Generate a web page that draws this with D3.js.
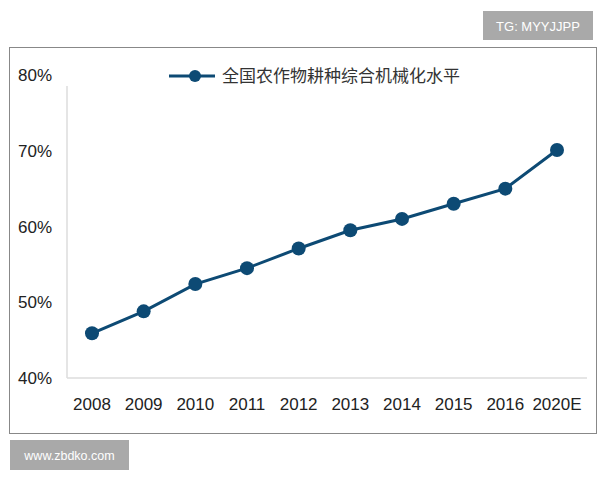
<!DOCTYPE html><html><head><meta charset="utf-8"><script src="https://cdn.jsdelivr.net/npm/d3@7"></script>
<style>body{margin:0;background:#fff}</style></head><body><svg id="c" width="600" height="480"></svg>
<script>
const categories=["2008","2009","2010","2011","2012","2013","2014","2015","2016","2020E"];
const values=[45.9,48.8,52.4,54.5,57.1,59.5,61.0,63.0,65.0,70.1];
const yTicks=[40,50,60,70,80];
const seriesName="全国农作物耕种综合机械化水平";
const svg=d3.select("#c");
const font="'Liberation Sans', Arial, 'Noto Sans CJK SC', sans-serif";
const color="#0d4a74";
svg.append("rect").attr("x",9.5).attr("y",47.5).attr("width",587).attr("height",386).attr("fill","#fff").attr("stroke","#888").attr("stroke-width",1);
svg.append("rect").attr("x",483).attr("y",11).attr("width",110).attr("height",29).attr("fill","#a9a9a9");
svg.append("text").attr("x",538).attr("y",31).attr("text-anchor","middle").attr("fill","#fff").attr("font-family",font).attr("font-size",13).text("TG: MYYJJPP");
svg.append("rect").attr("x",10).attr("y",440).attr("width",119).attr("height",30).attr("fill","#a9a9a9");
svg.append("text").attr("x",69.5).attr("y",460).attr("text-anchor","middle").attr("fill","#fff").attr("font-family",font).attr("font-size",12.5).text("www.zbdko.com");
const x=d3.scalePoint().domain(categories).range([92,557]);
const y=d3.scaleLinear().domain([40,80]).range([378,75]);
svg.append("line").attr("x1",67).attr("x2",67).attr("y1",86).attr("y2",378).attr("stroke","#ddd").attr("stroke-width",1.5);
svg.append("line").attr("x1",67).attr("x2",587).attr("y1",378).attr("y2",378).attr("stroke","#ddd").attr("stroke-width",1.5);
svg.selectAll(".yl").data(yTicks).enter().append("text").attr("x",52).attr("y",d=>y(d)+6).attr("text-anchor","end").attr("font-family",font).attr("font-size",17).attr("fill","#222").text(d=>d+"%");
svg.selectAll(".xl").data(categories).enter().append("text").attr("x",d=>x(d)).attr("y",410).attr("text-anchor","middle").attr("font-family",font).attr("font-size",17).attr("fill","#222").text(d=>d);
const data=categories.map((c,i)=>({c,v:values[i]}));
svg.append("path").datum(data).attr("d",d3.line().x(d=>x(d.c)).y(d=>y(d.v))).attr("fill","none").attr("stroke",color).attr("stroke-width",3);
svg.selectAll(".pt").data(data).enter().append("circle").attr("cx",d=>x(d.c)).attr("cy",d=>y(d.v)).attr("r",7).attr("fill",color);
svg.append("line").attr("x1",169).attr("x2",215).attr("y1",76).attr("y2",76).attr("stroke",color).attr("stroke-width",3);
svg.append("circle").attr("cx",195).attr("cy",76).attr("r",6).attr("fill",color);
svg.append("text").attr("x",222).attr("y",82).attr("font-family",font).attr("font-size",17).attr("fill","#333").text(seriesName);
</script></body></html>
